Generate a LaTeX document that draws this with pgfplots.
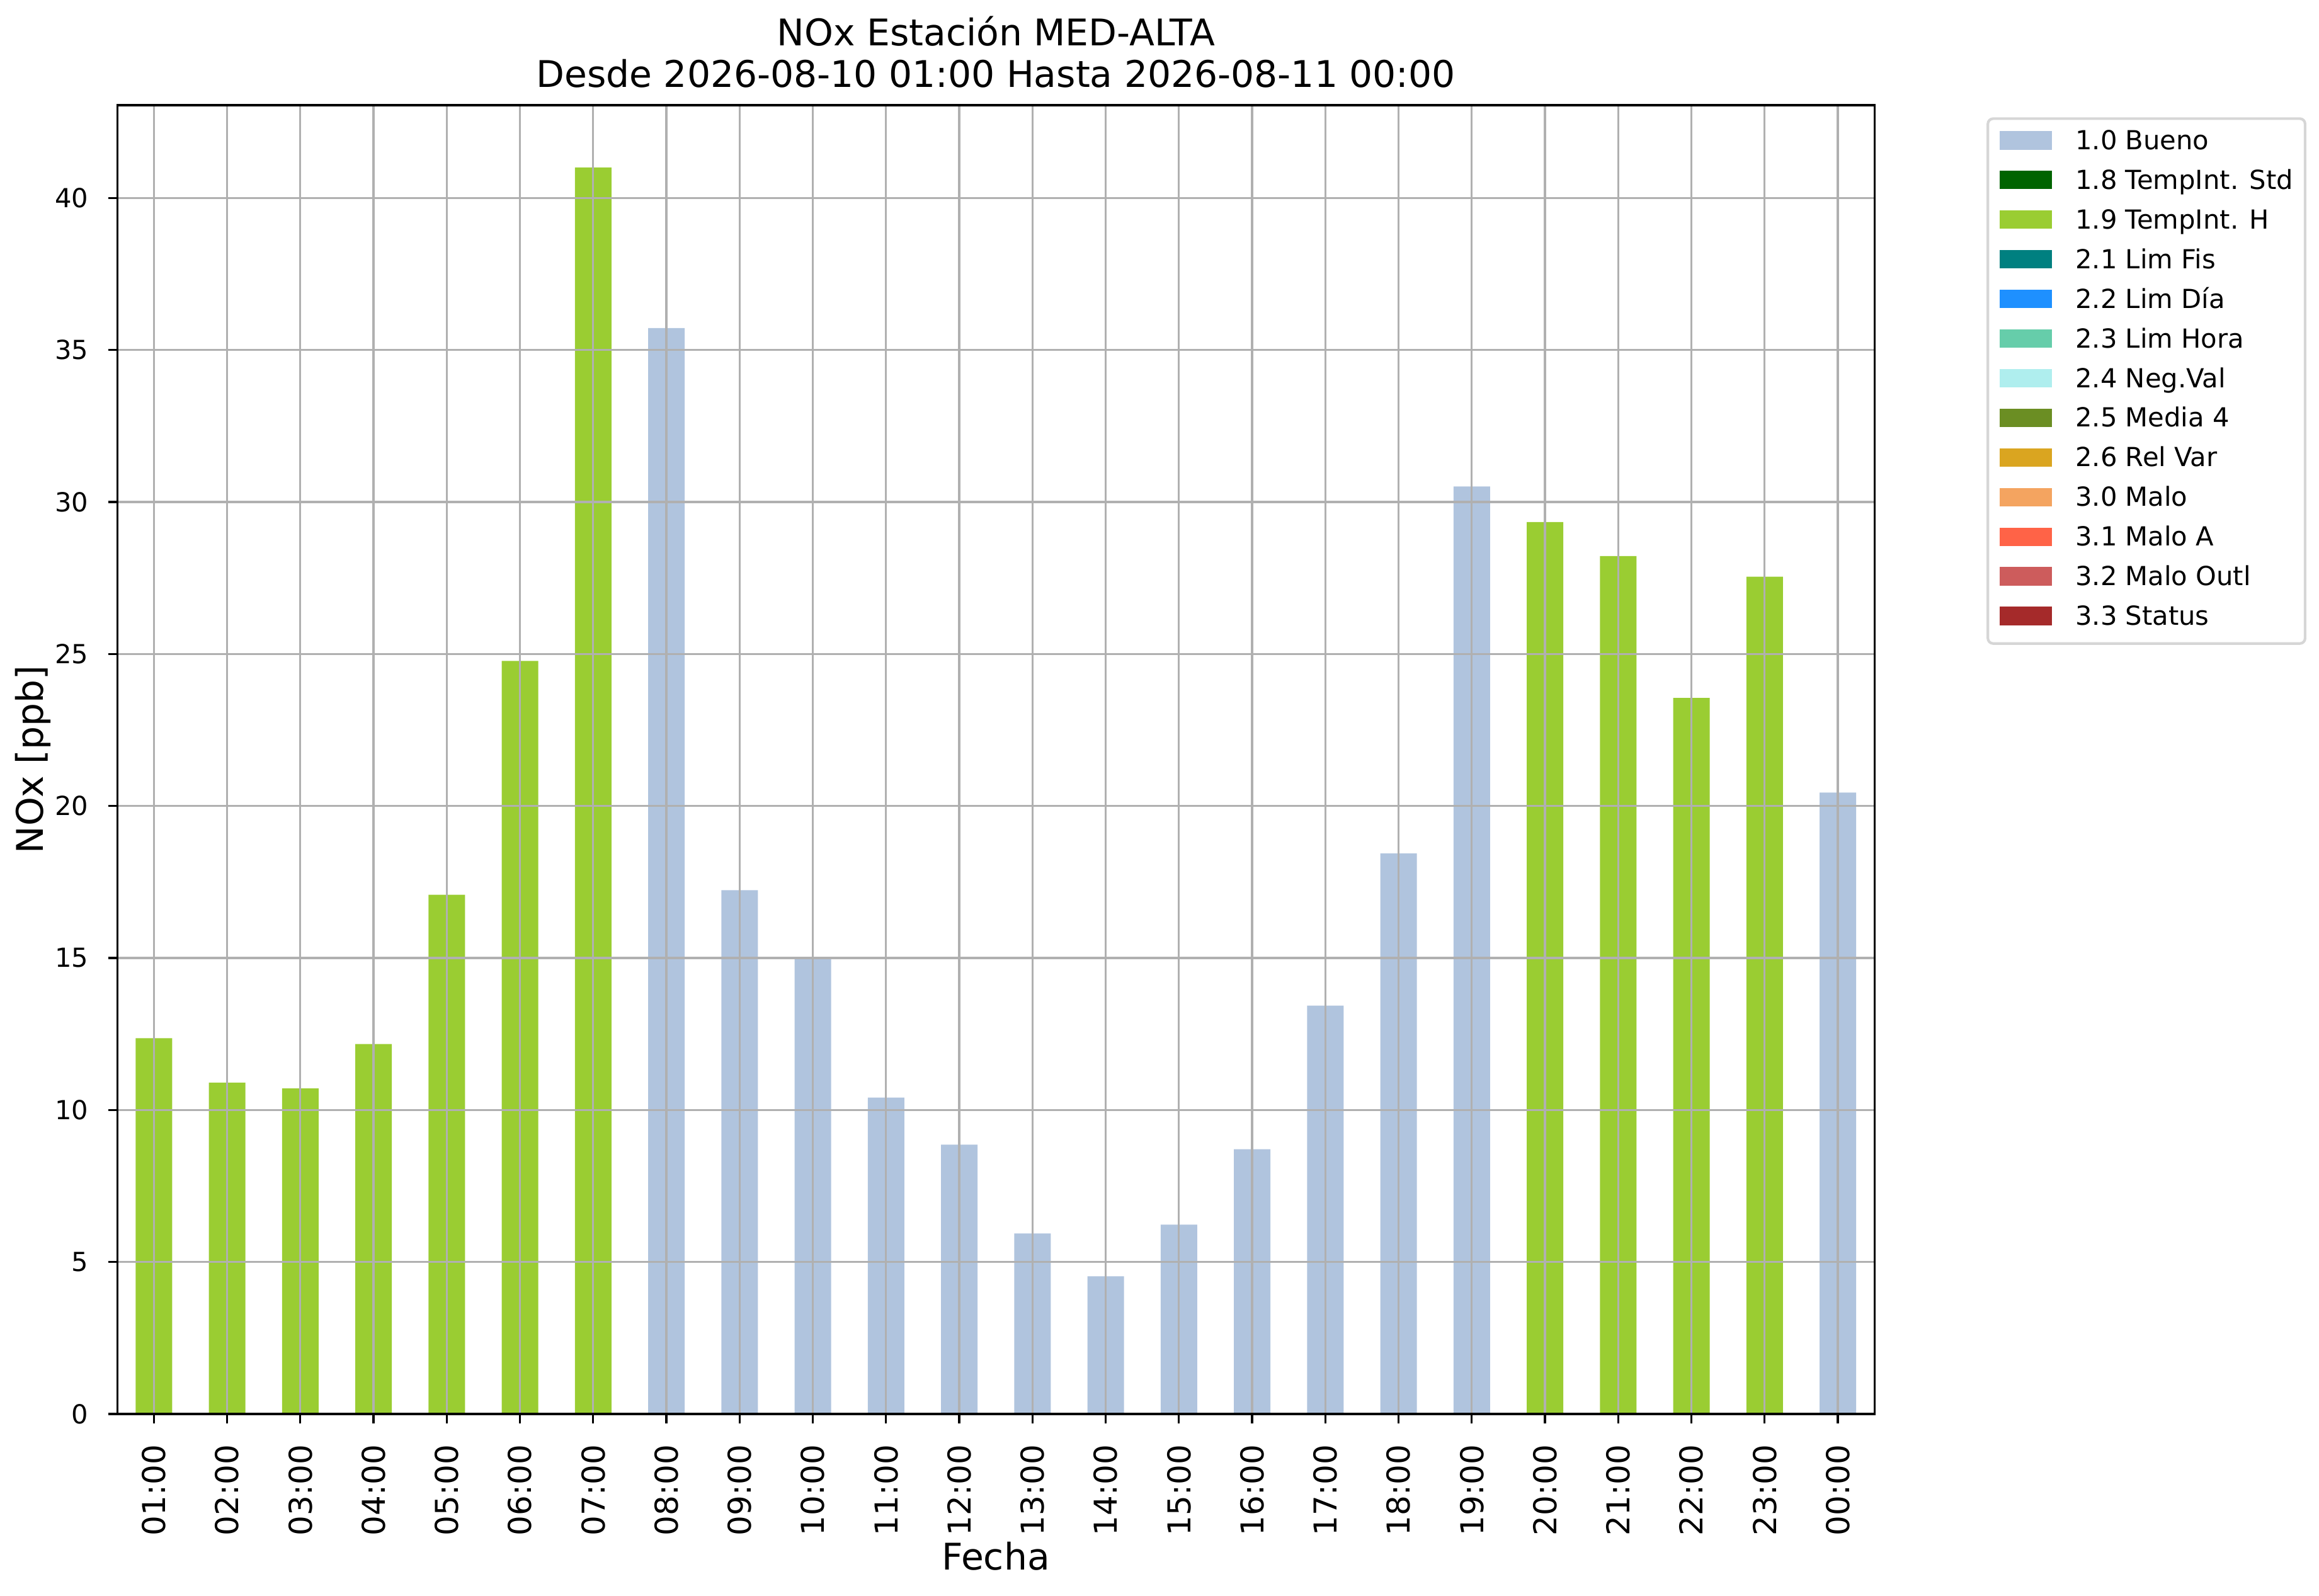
\documentclass[border=0pt]{standalone}
\usepackage{fontspec}
\setmainfont{DejaVu Sans}
\usepackage{pgfplots}
\pgfplotsset{compat=1.18}
\definecolor{bueno}{HTML}{B0C4DE}
\definecolor{tstd}{HTML}{006400}
\definecolor{th}{HTML}{9ACD32}
\definecolor{limfis}{HTML}{008080}
\definecolor{limdia}{HTML}{1E90FF}
\definecolor{limhora}{HTML}{66CDAA}
\definecolor{negval}{HTML}{AFEEEE}
\definecolor{media}{HTML}{6B8E23}
\definecolor{relvar}{HTML}{DAA520}
\definecolor{malo}{HTML}{F4A460}
\definecolor{maloa}{HTML}{FF6347}
\definecolor{maloout}{HTML}{CD5C5C}
\definecolor{status}{HTML}{A52A2A}
\definecolor{gridgray}{HTML}{B0B0B0}
\definecolor{legborder}{HTML}{D6D6D6}
\pgfplotsset{mylegimg/.style={legend image code/.code={\fill[##1, sharp corners, draw=none] (0pt,-2.4pt) rectangle (20pt,4.6pt);}}}
\begin{document}
\begin{tikzpicture}
\useasboundingbox (-44.69pt,-69.36pt) rectangle (839.0pt,538.8pt);
\begin{axis}[
  at={(0,0)}, anchor=south west,
  scale only axis, width=669.6pt, height=498.72pt,
  xmin=-0.5, xmax=23.5, ymin=0, ymax=43.05,
  xtick={0,...,23},
  xticklabels={01:00,02:00,03:00,04:00,05:00,06:00,07:00,08:00,09:00,10:00,11:00,12:00,13:00,14:00,15:00,16:00,17:00,18:00,19:00,20:00,21:00,22:00,23:00,00:00},
  ytick={0,5,...,40},
  axis on top,
  grid=major,
  major grid style={color=gridgray, line width=0.8pt},
  axis line style={line width=0.8pt, black},
  tick align=outside, tick pos=left,
  major tick length=3.5pt,
  tick style={black, line width=0.8pt},
  /pgf/number format/assume math mode=true,
  yticklabel style={font=\fontsize{10}{12}\selectfont, inner sep=0pt, anchor=east},
  yticklabel shift=7.3pt,
  xticklabel style={font=\fontsize{12}{14}\selectfont, inner sep=0pt, rotate=90, anchor=east},
  xticklabel shift=8.1pt,
  title={NOx Estación MED-ALTA\\Desde 2026-08-10 01:00 Hasta 2026-08-11 00:00},
  every axis title/.style={at={(axis description cs:0.5,1)}, anchor=south, yshift=6.4pt, align=center, inner sep=0pt, font=\fontsize{14}{15.8}\selectfont},
  xlabel={Fecha},
  every axis x label/.style={at={(axis description cs:0.5,-0.1193)}, anchor=base, inner sep=0pt, font=\fontsize{14}{16}\selectfont},
  ylabel={NOx [ppb]},
  every axis y label/.style={at={(axis description cs:-0.048,0.5)}, rotate=90, anchor=center, inner sep=0pt, font=\fontsize{14}{16}\selectfont},
  legend cell align=left,
  legend style={at={(1.0638,0.9907)}, anchor=north west,
    font=\fontsize{10}{12}\selectfont,
    draw=legborder, line width=1pt, rounded corners=2pt,
    inner sep=4.5pt, row sep=5.3pt,
    nodes={inner sep=0pt, text height=7.3pt, text depth=2.5pt},
    /tikz/every odd column/.append style={column sep=8.9pt}},
]
\addplot[ybar, bar width=0.5, bar shift=0pt, fill=bueno, draw=none, mylegimg] coordinates {
(7,35.72) (8,17.23) (9,15.04) (10,10.41) (11,8.86) (12,5.94) (13,4.53) (14,6.23) (15,8.71) (16,13.43) (17,18.44) (18,30.51) (23,20.44)};
\addlegendentry{1.0 Bueno}
\addlegendimage{mylegimg, fill=tstd}
\addlegendentry{1.8 TempInt. Std}
\addplot[ybar, bar width=0.5, bar shift=0pt, fill=th, draw=none, mylegimg] coordinates {
(0,12.36) (1,10.90) (2,10.71) (3,12.17) (4,17.08) (5,24.77) (6,41.0) (19,29.34) (20,28.22) (21,23.55) (22,27.54)};
\addlegendentry{1.9 TempInt. H}
\addlegendimage{mylegimg, fill=limfis}
\addlegendentry{2.1 Lim Fis}
\addlegendimage{mylegimg, fill=limdia}
\addlegendentry{2.2 Lim Día}
\addlegendimage{mylegimg, fill=limhora}
\addlegendentry{2.3 Lim Hora}
\addlegendimage{mylegimg, fill=negval}
\addlegendentry{2.4 Neg.Val}
\addlegendimage{mylegimg, fill=media}
\addlegendentry{2.5 Media 4}
\addlegendimage{mylegimg, fill=relvar}
\addlegendentry{2.6 Rel Var}
\addlegendimage{mylegimg, fill=malo}
\addlegendentry{3.0 Malo}
\addlegendimage{mylegimg, fill=maloa}
\addlegendentry{3.1 Malo A}
\addlegendimage{mylegimg, fill=maloout}
\addlegendentry{3.2 Malo Outl}
\addlegendimage{mylegimg, fill=status}
\addlegendentry{3.3 Status}
\end{axis}
\end{tikzpicture}
\end{document}
